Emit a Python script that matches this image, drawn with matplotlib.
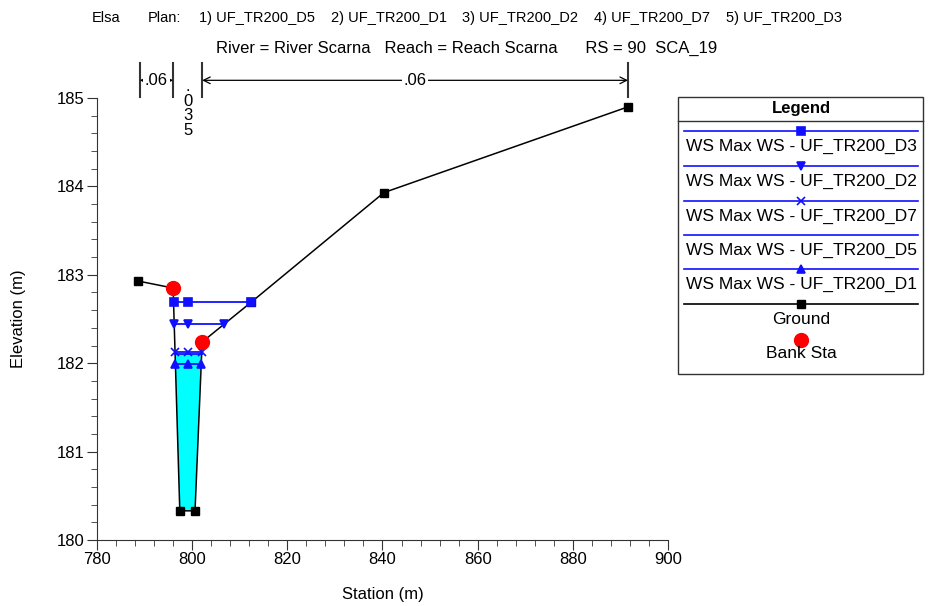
import numpy as np
import matplotlib.pyplot as plt
from matplotlib.patches import Rectangle

plt.rcParams["font.family"] = ["Liberation Sans", "DejaVu Sans"]

# ground profile (station m, elevation m)
ground_x = [788.6, 796.0, 797.4, 800.6, 802.1, 812.4, 840.3, 891.6]
ground_y = [182.93, 182.85, 180.33, 180.33, 182.24, 182.69, 183.93, 184.90]
bank_x = [796.0, 802.1]
bank_y = [182.85, 182.24]

# max water surface per plan
ws_names = ["UF_TR200_D3", "UF_TR200_D2", "UF_TR200_D7", "UF_TR200_D5", "UF_TR200_D1"]
ws_levels = [182.69, 182.44, 182.13, 182.10, 181.99]
ws_markers = ["s", "v", "x", "", "^"]
ws_mid_x = 799.05
fill_level = 182.10

# manning's n
n_breaks = [789.0, 796.0, 802.1, 891.6]
n_values = [".06", ".035", ".06"]

plans = ["1) UF_TR200_D5", "2) UF_TR200_D1", "3) UF_TR200_D2", "4) UF_TR200_D7", "5) UF_TR200_D3"]

BLUE = "#1010ff"


def crossings(level):
    x = np.array(ground_x)
    y = np.array(ground_y)
    low = int(np.argmin(y))
    left = right = None
    for i in range(low, 0, -1):
        if y[i - 1] >= level >= y[i]:
            left = x[i] + (level - y[i]) / (y[i - 1] - y[i]) * (x[i - 1] - x[i])
            break
    for i in range(low, len(x) - 1):
        if y[i] <= level <= y[i + 1]:
            right = x[i] + (level - y[i]) / (y[i + 1] - y[i]) * (x[i + 1] - x[i])
            break
    return left, right


fig = plt.figure(figsize=(9.32, 6.06), dpi=100)
ax = fig.add_axes([97 / 932, 1 - 540 / 606, 571 / 932, 442 / 606])

# channel fill
l, r = crossings(fill_level)
inner = [(gx, gy) for gx, gy in zip(ground_x, ground_y) if gy < fill_level and l < gx < r]
px = [l] + [p[0] for p in inner] + [r]
py = [fill_level] + [p[1] for p in inner] + [fill_level]
ax.fill(px, py, color="#00ffff", zorder=1, lw=0)

ax.plot(ground_x, ground_y, color="black", lw=1.1, marker="s", ms=5.5, zorder=3)

for name, lev, mk in zip(ws_names, ws_levels, ws_markers):
    l, r = crossings(lev)
    ax.plot([l, r], [lev, lev], color=BLUE, lw=1.3, zorder=4)
    if mk:
        ax.plot([l, ws_mid_x, r], [lev] * 3, ls="none", marker=mk, color=BLUE,
                ms=6, mew=1.2, zorder=5)

ax.plot(bank_x, bank_y, ls="none", marker="o", color="red", ms=10, zorder=6)

# manning's n annotations above the plot
for b in n_breaks:
    ax.plot([b, b], [185.01, 185.40], color="#333333", lw=1.5, clip_on=False)
for i, val in enumerate(n_values):
    a, b = n_breaks[i], n_breaks[i + 1]
    mid = (a + b) / 2
    if b - a > 6.5:
        ax.annotate("", xy=(a, 185.2), xytext=(b, 185.2), annotation_clip=False,
                    arrowprops=dict(arrowstyle="<->", color="black", lw=0.9,
                                    shrinkA=0, shrinkB=0, mutation_scale=12))
        ax.text(mid, 185.2, val, ha="center", va="center", fontsize=12,
                bbox=dict(boxstyle="square,pad=0.1", fc="white", ec="none"),
                clip_on=False)
    else:
        ax.text(mid, 185.21, "\n".join(val), ha="center", va="top",
                fontsize=12, linespacing=0.95, clip_on=False)

ax.set_xlim(780, 900)
ax.set_ylim(180, 185)
ax.set_xticks(np.arange(780, 901, 20))
ax.set_xticks(np.arange(780, 901, 4), minor=True)
ax.set_yticks(np.arange(180, 185.1, 1))
ax.set_yticks(np.arange(180, 185.01, 0.2), minor=True)
for s in ["top", "right"]:
    ax.spines[s].set_visible(False)
for s in ["left", "bottom"]:
    ax.spines[s].set_color("#333333")
ax.tick_params(which="major", length=7, color="#333333", labelsize=12, pad=2)
ax.tick_params(which="minor", length=4, color="#333333")
ax.set_xlabel("Station (m)", fontsize=12, labelpad=14)
ax.set_ylabel("Elevation (m)", fontsize=12, labelpad=22)

# overlay in pixel coordinates for titles and legend
ov = fig.add_axes([0, 0, 1, 1], zorder=10)
ov.set_xlim(0, 932)
ov.set_ylim(606, 0)
ov.axis("off")
ov.patch.set_alpha(0)

ov.text(92, 18, "Elsa", ha="left", va="center", fontsize=10.5)
ov.text(148, 18, "Plan:", ha="left", va="center", fontsize=10.5)
for x0, p in zip([199, 331, 462, 594, 726], plans):
    ov.text(x0, 18, p, ha="left", va="center", fontsize=10.5)
ov.text(467, 48, "River = River Scarna   Reach = Reach Scarna      RS = 90  SCA_19",
        ha="center", va="center", fontsize=12)

ov.add_patch(Rectangle((678, 97), 245, 277, fc="white", ec="#333333", lw=1))
ov.plot([678, 923], [121, 121], color="#333333", lw=1)
ov.text(801, 109, "Legend", ha="center", va="center", fontsize=12, fontweight="bold")

leg_y = [131, 166, 201, 235, 269]
for y, name, mk in zip(leg_y, ws_names, ws_markers):
    ov.plot([684, 918], [y, y], color=BLUE, lw=1.2)
    if mk:
        ov.plot([801], [y], marker=mk, color=BLUE, ms=6, mew=1.2)
    ov.text(801, y + 15, "WS Max WS - " + name, ha="center", va="center", fontsize=12.5)
ov.plot([684, 918], [304, 304], color="black", lw=1.2)
ov.plot([801], [304], marker="s", color="black", ms=5.5)
ov.text(801, 320, "Ground", ha="center", va="center", fontsize=12.5)
ov.plot([801], [340], marker="o", color="red", ms=10)
ov.text(801, 354, "Bank Sta", ha="center", va="center", fontsize=12.5)

fig.savefig("out.png", dpi=100)
